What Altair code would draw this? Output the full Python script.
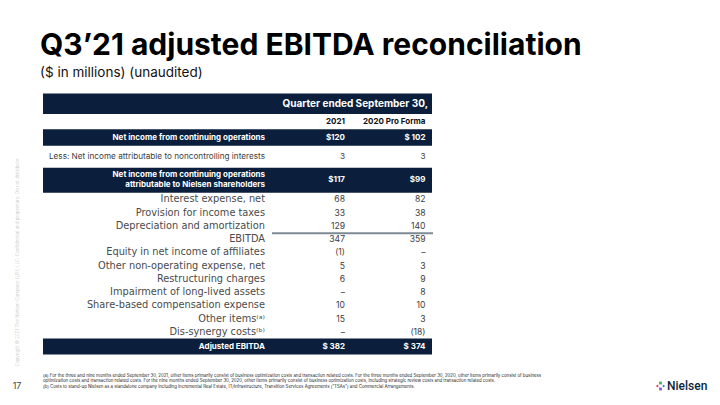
import altair as alt
import pandas as pd

NAVY = "#0b1f3d"
FONT = "Inter"
WIDE = "DejaVu Sans"

title = "Q3\u201921 adjusted EBITDA reconciliation"
subtitle = "($ in millions) (unaudited)"
header = "Quarter ended September 30,"
col_heads = ["2021", "2020 Pro Forma"]

labels = [
    "Net income from continuing operations",
    "Less: Net income attributable to noncontrolling interests",
    "Net income from continuing operations\nattributable to Nielsen shareholders",
    "Interest expense, net",
    "Provision for income taxes",
    "Depreciation and amortization",
    "EBITDA",
    "Equity in net income of affiliates",
    "Other non-operating expense, net",
    "Restructuring charges",
    "Impairment of long-lived assets",
    "Share-based compensation expense",
    "Other items\u207d\u1d43\u207e",
    "Dis-synergy costs\u207d\u1d47\u207e",
    "Adjusted EBITDA",
]
v2021 = ["$120", "3", "$117", "68", "33", "129", "347", "(1)", "5", "6", "\u2013", "10", "15", "\u2013", "$ 382"]
v2020 = ["$ 102", "3", "$99", "82", "38", "140", "359", "\u2013", "3", "9", "8", "10", "3", "(18)", "$ 374"]
kinds = ["band", "small", "band2"] + ["body"] * 11 + ["band"]
row_h = [16.5, 22, 25] + [13.25] * 11 + [16]

footnotes = [
    "(a) For the three and nine months ended September 30, 2021, other items primarily consist of business optimization costs and transaction related costs. For the three months ended September 30, 2020, other items primarily consist of business",
    "optimization costs and transaction related costs. For the nine months ended September 30, 2020, other items primarily consist of business optimization costs, including strategic review costs and transaction related costs.",
    "(b) Costs to stand-up Nielsen as a standalone company including incremental Real Estate, IT/Infrastructure, Transition Services Agreements (\u201cTSAs\u201d) and Commercial Arrangements.",
]
copyright_txt = "Copyright \u00a9 2021 The Nielsen Company (US), LLC. Confidential and proprietary. Do not distribute."

# ---- layout (page pixel coordinates) ----
TL, TR = 43, 432
LAB_X, C1_X, C2_X = 265, 345, 425.5
tops, y = [], 129.3
for h in row_h:
    tops.append(y)
    y += h
rows = pd.DataFrame({
    "label": labels, "v2021": v2021, "v2020": v2020, "kind": kinds,
    "top": tops, "bot": [t + h for t, h in zip(tops, row_h)],
})
rows["mid"] = (rows["top"] + rows["bot"]) / 2
rows["x0"], rows["x1"] = TL, TR
rows["lx"], rows["c1"], rows["c2"] = LAB_X, C1_X, C2_X

X = alt.Scale(domain=[8, 712], nice=False, zero=False)
Y = alt.Scale(domain=[8, 397], nice=False, zero=False, reverse=True)


def xq(f):
    return alt.X(f, type="quantitative", scale=X, axis=None)


def yq(f):
    return alt.Y(f, type="quantitative", scale=Y, axis=None)


base = alt.Chart(rows)

bands = base.transform_filter("datum.kind == 'band' || datum.kind == 'band2'").mark_rect(color=NAVY).encode(
    x=xq("x0"), x2="x1", y=yq("top"), y2="bot")


def txt_layer(kinds_sel, field, xf, size, weight, color, font=FONT, dy=0, line_h=None):
    kw = dict(align="right", baseline="middle", font=font, fontSize=size,
              fontWeight=weight, color=color, dy=dy)
    if line_h:
        kw.update(lineBreak="\n", lineHeight=line_h)
    cond = " || ".join(f"datum.kind == '{k}'" for k in kinds_sel)
    return base.transform_filter(cond).mark_text(**kw).encode(
        x=xq(xf), y=yq("mid"), text=f"{field}:N")


layers = [bands]
layers.append(txt_layer(["band"], "label", "lx", 8, "bold", "white"))
layers.append(txt_layer(["band2"], "label", "lx", 8, "bold", "white", dy=-5, line_h=10))
for f, xf in [("v2021", "c1"), ("v2020", "c2")]:
    layers.append(txt_layer(["band", "band2"], f, xf, 8, "bold", "white"))
for f, xf in [("label", "lx"), ("v2021", "c1"), ("v2020", "c2")]:
    layers.append(txt_layer(["small"], f, xf, 8.2, "normal", "#404040"))
layers.append(txt_layer(["body"], "label", "lx", 9.8, "normal", "#4a4a4a", font=WIDE))
for f, xf in [("v2021", "c1"), ("v2020", "c2")]:
    layers.append(txt_layer(["body"], f, xf, 8.6, "normal", "#404040"))

# header band
hdr = pd.DataFrame({"x0": [TL], "x1": [TR], "t": [93.5], "b": [114], "tx": [428], "ty": [104], "txt": [header]})
layers.append(alt.Chart(hdr).mark_rect(color=NAVY).encode(x=xq("x0"), x2="x1", y=yq("t"), y2="b"))
layers.append(alt.Chart(hdr).mark_text(align="right", baseline="middle", font=FONT, fontSize=10,
                                       fontWeight="bold", color="white").encode(
    x=xq("tx"), y=yq("ty"), text="txt:N"))

# column heads
ch = pd.DataFrame({"txt": col_heads, "x": [C1_X, C2_X], "y": [122, 122]})
layers.append(alt.Chart(ch).mark_text(align="right", baseline="middle", font=FONT, fontSize=8,
                                      fontWeight="bold", color="#111111").encode(
    x=xq("x"), y=yq("y"), text="txt:N"))

# separator line under D&A
sep = pd.DataFrame({"x0": [272], "x1": [433], "y": [233.3]})
layers.append(alt.Chart(sep).mark_rule(color="#7d8a93", strokeWidth=2).encode(
    x=xq("x0"), x2="x1", y=yq("y")))

# title & subtitle
tt = pd.DataFrame({"txt": [title], "x": [40], "y": [55]})
layers.append(alt.Chart(tt).mark_text(align="left", baseline="alphabetic", font=FONT, fontSize=30,
                                      fontWeight="bold", color="#000000").encode(
    x=xq("x"), y=yq("y"), text="txt:N"))
st = pd.DataFrame({"txt": [subtitle], "x": [40], "y": [77]})
layers.append(alt.Chart(st).mark_text(align="left", baseline="alphabetic", font=FONT, fontSize=13.5,
                                      color="#111111").encode(
    x=xq("x"), y=yq("y"), text="txt:N"))

# footnotes
fn = pd.DataFrame({"txt": footnotes, "x": [43] * 3, "y": [375.5, 381, 386.5]})
layers.append(alt.Chart(fn).mark_text(align="left", baseline="middle", font=FONT, fontSize=4.35,
                                      color="#222222").encode(
    x=xq("x"), y=yq("y"), text="txt:N"))

# page number
pn = pd.DataFrame({"txt": ["17"], "x": [17], "y": [386]})
layers.append(alt.Chart(pn).mark_text(align="center", baseline="middle", font=FONT, fontSize=9,
                                      color="#444444").encode(
    x=xq("x"), y=yq("y"), text="txt:N"))

# vertical copyright
cp = pd.DataFrame({"txt": [copyright_txt], "x": [18], "y": [262]})
layers.append(alt.Chart(cp).mark_text(align="center", baseline="middle", font=FONT, fontSize=4.5,
                                      angle=270, color="#d0d0d0").encode(
    x=xq("x"), y=yq("y"), text="txt:N"))

# Nielsen logo
logo = pd.DataFrame({"txt": ["Nielsen"], "x": [667], "y": [386]})
layers.append(alt.Chart(logo).mark_text(align="left", baseline="middle", font="Roboto", fontSize=12,
                                        fontWeight=500, color=NAVY).encode(
    x=xq("x"), y=yq("y"), text="txt:N"))
icon = pd.DataFrame({
    "x": [657, 660.5, 660.5, 664],
    "y": [386, 383, 389, 386],
    "c": ["#e8344e", "#3fb65f", "#8b59d6", "#1e7be0"],
    "s": ["triangle-left", "square", "square", "triangle-right"],
})
layers.append(alt.Chart(icon).mark_point(filled=True, size=8, opacity=1).encode(
    x=xq("x"), y=yq("y"), color=alt.Color("c:N", scale=None),
    shape=alt.Shape("s:N", scale=None)))

chart = alt.layer(*layers).properties(
    width=704, height=389, padding=0, autosize=alt.AutoSizeParams(type="none"),
    background="white",
).configure_view(stroke=None)

chart.save("out.html", embed_options={"renderer": "svg", "actions": False})
